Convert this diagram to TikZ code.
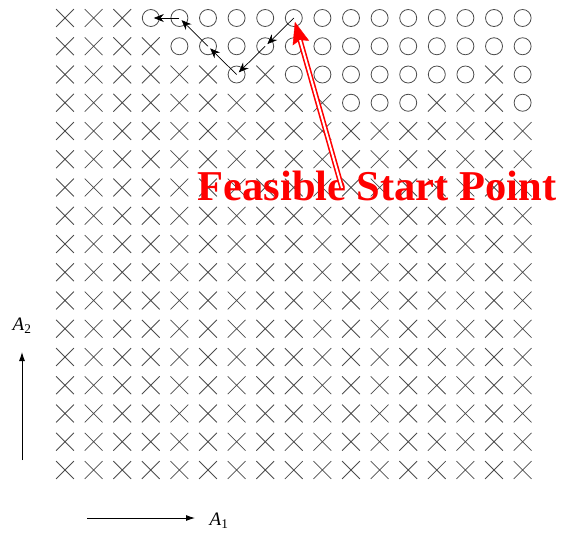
\documentclass[tikz,border=0pt]{standalone}
\usepackage{fontspec}
\setmainfont{Liberation Serif}
\usetikzlibrary{shapes.misc, arrows.meta, calc}

\begin{document}
\begin{tikzpicture}[x=1pt, y=-1pt,
    infeas/.style={cross out, draw=black!70, line width=0.8pt, minimum size=17pt, inner sep=0pt},
    feas/.style={circle, draw=black!70, line width=0.8pt, minimum size=17pt, inner sep=0pt},
    steparrow/.style={black, line width=0.7pt, -{Stealth[length=10pt, width=8pt]}, shorten >=3pt},
    axisarrow/.style={black, line width=0.9pt, -{Latex[length=9pt, width=6pt]}},
    axislabel/.style={font=\fontsize{19}{19}\selectfont, inner sep=0pt}]
    \useasboundingbox (0,0) rectangle (561,533);

    % Grid of points: circle = feasible, cross = infeasible
    \foreach \r in {1,...,17} {
        \foreach \c in {1,...,17} {
            \pgfmathtruncatemacro{\ok}{(\r==1 && \c>=4) || (\r==2 && \c>=5) || (\r==3 && (\c==7 || (\c>=9 && \c<=15) || \c==17)) || (\r==4 && ((\c>=11 && \c<=13) || \c==17))}
            \ifnum\ok=1
                \node[feas] (p-\r-\c) at ({65+(\c-1)*28.6}, {18+(\r-1)*28.25}) {};
            \else
                \node[infeas] (p-\r-\c) at ({65+(\c-1)*28.6}, {18+(\r-1)*28.25}) {};
            \fi
        }
    }

    % Search path from the start point
    \foreach \a/\b in {1-9/2-8, 2-8/3-7, 3-7/2-6, 2-6/1-5, 1-5/1-4}
        \draw[steparrow] (p-\a.center) -- (p-\b.center);

    % Label with red arrow
    \node[red, font=\fontsize{42.5}{42.5}\selectfont\bfseries, inner sep=0pt, anchor=base] (start) at (377,200) {Feasible Start Point};
    \coordinate (tail) at (342,188);
    \draw[red, -{Stealth[length=22pt, width=17pt, inset=3pt]}, shorten >=4pt] ($(tail)!0.82!(p-1-9.center)$) -- (p-1-9.center);
    \draw[red, line width=1.6pt, double=white, double distance=2pt, shorten >=23pt] (tail) -- (p-1-9.center);

    % Axes
    \coordinate (v0) at (22,460);
    \coordinate (v1) at (22,352);
    \draw[axisarrow] (v0) -- (v1);
    \node[axislabel] (a2) at (22,326) {\textit{A}\textsubscript{2}};
    \coordinate (h0) at (87,518);
    \coordinate (h1) at (195,518);
    \draw[axisarrow] (h0) -- (h1);
    \node[axislabel] (a1) at (219,521) {\textit{A}\textsubscript{1}};
\end{tikzpicture}
\end{document}
